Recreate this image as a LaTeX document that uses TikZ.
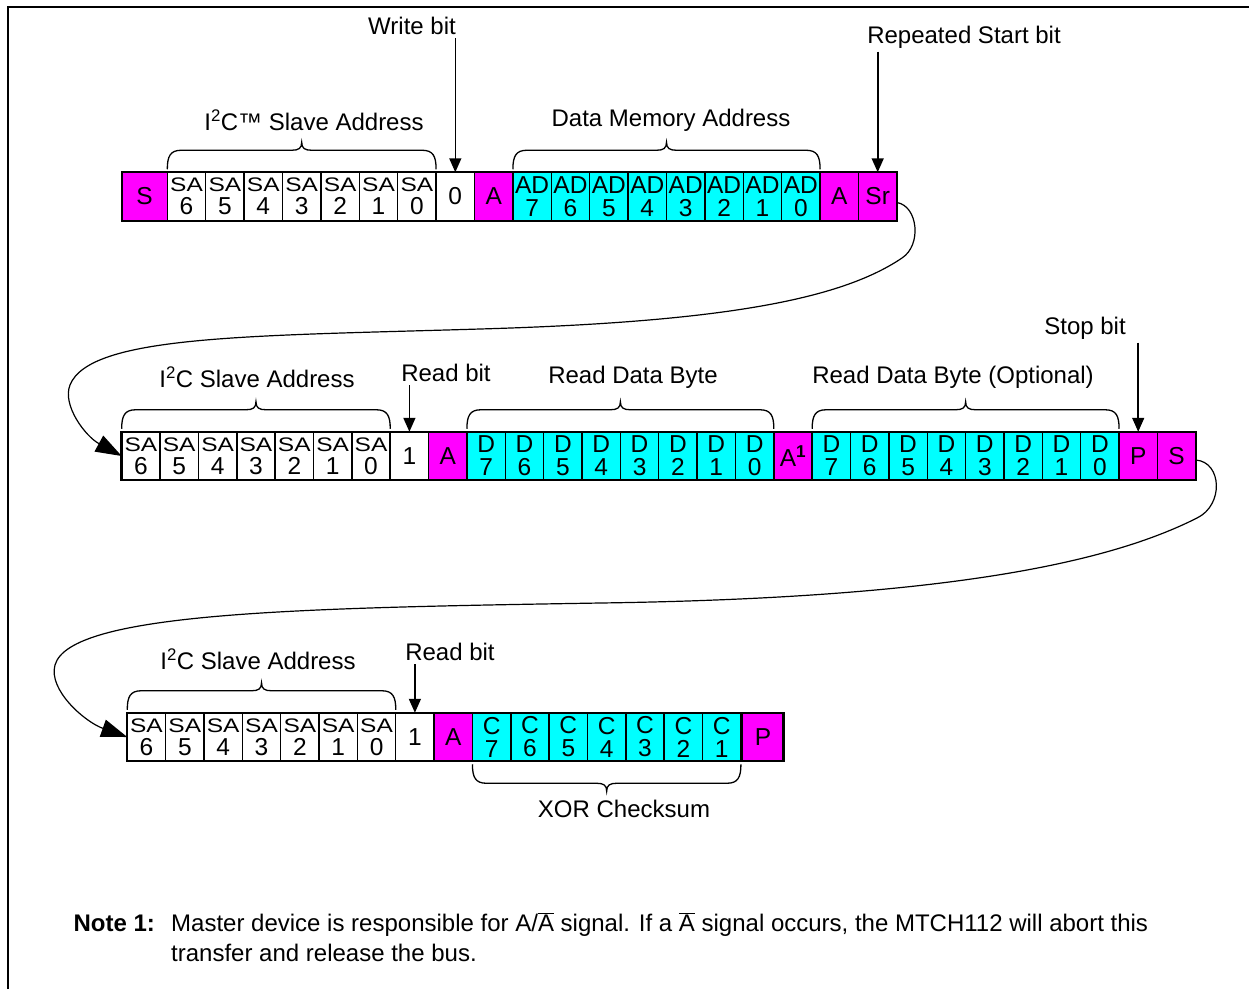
\documentclass[tikz,border=0pt]{standalone}
\usepackage{fontspec}
\setmainfont{Liberation Sans}
\usepackage{graphicx}
\usetikzlibrary{arrows.meta,calc}

\definecolor{bitmag}{RGB}{255,0,255}
\definecolor{bitcyan}{RGB}{0,255,255}

\newcommand\sa{\scalebox{1}[0.8]{SA}}
\newcommand\Abar{$\overline{\mbox{A}}$}
% brace over (1) or under (-1) a run of cells
\newcommand\rowbrace[3]{%
  \coordinate (bl) at ($(#1)+(0,{-3*(#3)})$);
  \coordinate (br) at ($(#2)+(0,{-3*(#3)})$);
  \coordinate (bm) at ($(bl)!0.5!(br)$);
  \draw[bracepen] (bl) .. controls ($(bl)+(0,{-13*(#3)})$) and ($(bl)+(3,{-19*(#3)})$) .. ($(bl)+(14,{-19*(#3)})$)
    -- ($(bm)+(-10,{-19*(#3)})$) .. controls ($(bm)+(-3,{-19*(#3)})$) and ($(bm)+(0,{-21*(#3)})$) .. ($(bm)+(0,{-27*(#3)})$)
    .. controls ($(bm)+(0,{-21*(#3)})$) and ($(bm)+(3,{-19*(#3)})$) .. ($(bm)+(10,{-19*(#3)})$)
    -- ($(br)+(-14,{-19*(#3)})$) .. controls ($(br)+(-3,{-19*(#3)})$) and ($(br)+(0,{-13*(#3)})$) .. (br);
}

\tikzset{
  cellbase/.style={draw, line width=1.5pt, minimum width=38.4pt, minimum height=48.5pt,
    inner sep=0pt, outer sep=0pt, align=center, font=\fontsize{24.5}{23}\selectfont},
  wbit/.style={cellbase, fill=white},
  mbit/.style={cellbase, fill=bitmag},
  cbit/.style={cellbase, fill=bitcyan},
  rowframe/.style={line width=2.4pt},
  bracepen/.style={line width=1.3pt},
  bitarrow/.style={line width=1.6pt, -{Triangle[length=14pt,width=12pt]}},
  wrapline/.style={line width=1.2pt, -{Triangle[length=26pt,width=18pt]}}
}

\begin{document}
\begin{tikzpicture}[x=1pt, y=-1pt, font=\fontsize{24}{27}\selectfont]
  \useasboundingbox (0,0) rectangle (1249,989);
  \draw[line width=2pt] (8,989) -- (8,7) -- (1249,7);

  % first frame: write of the memory address
  \node[mbit, minimum width=45.6pt] (r1s) at (144.5,196.5) {S};
  \foreach \b [count=\i] in {6,5,4,3,2,1,0}
    \node[wbit] (r1c\i) at ({167.3+38.4*(\i-0.5)},196.5) {\sa\\\b};
  \node[wbit] (r1c8) at (455.3,196.5) {0};
  \node[mbit] (r1c9) at (493.7,196.5) {A};
  \foreach \b [count=\i from 10] in {7,6,5,4,3,2,1,0}
    \node[cbit] (r1c\i) at ({167.3+38.4*(\i-0.5)},196.5) {AD\\\b};
  \node[mbit] (r1c18) at (839.3,196.5) {A};
  \node[mbit] (r1c19) at (877.7,196.5) {Sr};
  \draw[rowframe] (r1s.north west) rectangle (r1c19.south east);

  % second frame: read of the data bytes
  \foreach \b [count=\i] in {6,5,4,3,2,1,0}
    \node[wbit] (r2c\i) at ({121.7+38.36*(\i-0.5)},456) {\sa\\\b};
  \node[wbit] (r2c8) at (409.4,456) {1};
  \node[mbit] (r2c9) at (447.8,456) {A};
  \foreach \b [count=\i from 10] in {7,6,5,4,3,2,1,0}
    \node[cbit] (r2c\i) at ({121.7+38.36*(\i-0.5)},456) {D\\\b};
  \node[mbit] (r2c18) at (793.0,456) {A\textsuperscript{\textbf{1}}};
  \foreach \b [count=\i from 19] in {7,6,5,4,3,2,1,0}
    \node[cbit] (r2c\i) at ({121.7+38.36*(\i-0.5)},456) {D\\\b};
  \node[mbit] (r2c27) at (1138.2,456) {P};
  \node[mbit] (r2c28) at (1176.6,456) {S};
  \draw[rowframe] (r2c1.north west) rectangle (r2c28.south east);

  % third frame: checksum
  \foreach \b [count=\i] in {6,5,4,3,2,1,0}
    \node[wbit] (r3c\i) at ({127.3+38.35*(\i-0.5)},737) {\sa\\\b};
  \node[wbit] (r3c8) at (414.9,737) {1};
  \node[mbit] (r3c9) at (453.2,737) {A};
  \foreach \b [count=\i from 10] in {7,6,5,4,3,2,1}
    \node[cbit] (r3c\i) at ({127.3+38.35*(\i-0.5)},737) {C\\\b};
  \node[mbit, minimum width=40.6pt] (r3c17) at (763.0,737) {P};
  \draw[rowframe] (r3c1.north west) rectangle (r3c17.south east);

  % braces
  \rowbrace{r1c1.north west}{r1c7.north east}{1}
  \rowbrace{r1c10.north west}{r1c17.north east}{1}
  \rowbrace{r2c1.north west}{r2c7.north east}{1}
  \rowbrace{r2c10.north west}{r2c17.north east}{1}
  \rowbrace{r2c19.north west}{r2c26.north east}{1}
  \rowbrace{r3c1.north west}{r3c7.north east}{1}
  \rowbrace{r3c10.south west}{r3c16.south east}{-1}

  % labels
  \node (slaveA) at (314,120) {I\textsuperscript{2}C™ Slave Address};
  \node (memaddr) at (671,120) {Data Memory Address};
  \node (writebit) at (412,26) {Write bit};
  \node (repstart) at (964,37) {Repeated Start bit};
  \node (slaveB) at (257,377) {I\textsuperscript{2}C Slave Address};
  \node (readbitB) at (446,373) {Read bit};
  \node (readbyte) at (633,377) {Read Data Byte};
  \node (readopt) at (953,377) {Read Data Byte (Optional)};
  \node (stopbit) at (1085,328) {Stop bit};
  \node (slaveC) at (258,659) {I\textsuperscript{2}C Slave Address};
  \node (readbitC) at (450,652) {Read bit};
  \node (xorsum) at (624,809) {XOR Checksum};

  % pointers
  \draw[bitarrow] (r1c8.north |- writebit.south) -- (r1c8.north);
  \draw[bitarrow] (r1c19.north |- repstart.south) -- (r1c19.north);
  \draw[bitarrow] (r2c27.north |- stopbit.south) -- (r2c27.north);
  \draw[bitarrow] (r2c8.north |- readbitB.south) -- (r2c8.north);
  \draw[bitarrow] (r3c8.north |- readbitC.south) -- (r3c8.north);

  % wrap to next frame
  \draw[wrapline] ([yshift=-6pt]r1c19.east) .. controls (918,206) and (922,245) .. (902,258)
    .. controls (840,300) and (720,322) .. (480,329)
    .. controls (250,336) and (90,335) .. (70,385)
    .. controls (62,405) and (85,436) .. (r2c1.west);
  \draw[wrapline] ([yshift=-4pt]r2c28.east) .. controls (1222,462) and (1224,505) .. (1197,518)
    .. controls (1110,562) and (950,598) .. (600,603)
    .. controls (300,608) and (70,612) .. (55,665)
    .. controls (48,690) and (85,722) .. (r3c1.west);

  % note
  \node[anchor=base west, font=\fontsize{24}{30}\selectfont\bfseries] (note) at (70,931) {Note 1:};
  \node[anchor=base west, align=left, font=\fontsize{24}{30}\selectfont, inner sep=0pt] (notebody) at (171,961)
    {Master device is responsible for A/\Abar{} signal. If a \Abar{} signal occurs, the MTCH112 will abort this\\
     transfer and release the bus.};
\end{tikzpicture}
\end{document}
